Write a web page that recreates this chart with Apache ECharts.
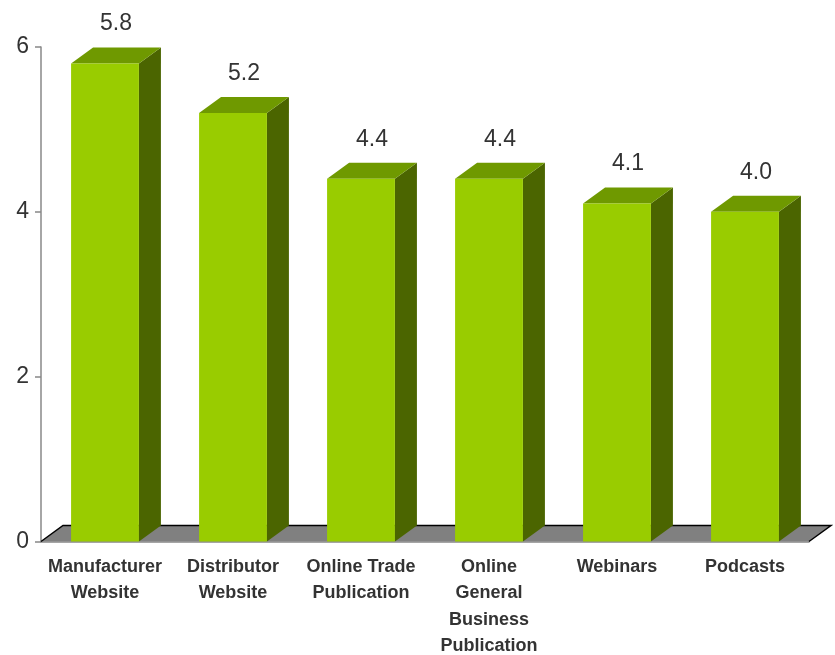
<!DOCTYPE html>
<html>
<head>
<meta charset="utf-8">
<script src="https://cdn.jsdelivr.net/npm/echarts@6/dist/echarts.min.js"></script>
<style>
  html, body { margin: 0; padding: 0; background: #fff; }
  #chart { width: 835px; height: 655px; }
</style>
</head>
<body>
<div id="chart"></div>
<script>
// data
const categories = ['Manufacturer\nWebsite', 'Distributor\nWebsite', 'Online Trade\nPublication', 'Online\nGeneral\nBusiness\nPublication', 'Webinars', 'Podcasts'];
const values = [5.8, 5.2, 4.4, 4.4, 4.1, 4.0];
const yTicks = [0, 2, 4, 6];

const DX = 22, DY = 16;
const FONT = 'Arial, "Liberation Sans", sans-serif';

const chart = echarts.init(document.getElementById('chart'));

// gray floor under the bars
function renderFloor(params, api) {
    const cs = params.coordSys;
    const x0 = cs.x, x1 = cs.x + cs.width, y0 = cs.y + cs.height;
    const pts = [[x0, y0], [x0 + DX, y0 - DY], [x1 + DX, y0 - DY], [x1, y0]];
    return {
        type: 'group',
        children: [
            { type: 'polygon', shape: { points: pts }, style: { fill: '#808080' } },
            { type: 'polyline', shape: { points: pts }, style: { stroke: '#000', lineWidth: 1.5, fill: null } }
        ]
    };
}

// 3d box per bar
function renderBar(params, api) {
    const top = api.coord([api.value(0), api.value(1)]);
    const base = api.coord([api.value(0), 0]);
    const w = api.size([1, 0])[0] * 0.53;
    const l = top[0] - w / 2, r = top[0] + w / 2;
    const t = top[1], b = base[1];
    return {
        type: 'group',
        children: [
            { type: 'polygon', shape: { points: [[r, t], [r + DX, t - DY], [r + DX, b - DY], [r, b]] },
              style: { fill: '#4b6500' } },
            { type: 'polygon', shape: { points: [[l, t], [l + DX, t - DY], [r + DX, t - DY], [r, t]] },
              style: { fill: '#6f9900' } },
            { type: 'rect', shape: { x: l, y: t, width: w, height: b - t },
              style: { fill: '#99cc00' } },
            { type: 'text', x: top[0] + DX / 2, y: t - DY - 12,
              style: { text: api.value(1).toFixed(1), fill: '#333', font: '23px ' + FONT,
                       align: 'center', verticalAlign: 'bottom' } }
        ]
    };
}

chart.setOption({
    animation: false,
    grid: { left: 41, right: 26, top: 47, bottom: 113.5, outerBoundsMode: 'none', containLabel: false },
    xAxis: {
        type: 'category',
        data: categories,
        axisLine: { lineStyle: { color: '#888', width: 1.5 } },
        axisTick: { length: 7, lineStyle: { color: '#888', width: 1.5 } },
        axisLabel: { color: '#333', fontWeight: 'bold', fontSize: 18, fontFamily: FONT,
                     lineHeight: 26.5, margin: 12, interval: 0, verticalAlign: 'top' }
    },
    yAxis: {
        type: 'value',
        min: yTicks[0], max: yTicks[yTicks.length - 1], interval: 2,
        splitLine: { show: false },
        axisLine: { show: true, lineStyle: { color: '#888', width: 1.5 } },
        axisTick: { show: true, length: 6, lineStyle: { color: '#888', width: 1.5 } },
        axisLabel: { color: '#333', fontSize: 23, fontFamily: FONT, margin: 12 }
    },
    series: [
        { type: 'custom', renderItem: renderFloor, data: [[0, 0]], z: 1, silent: true },
        { type: 'custom', renderItem: renderBar, data: values.map((v, i) => [i, v]), z: 2,
          encode: { x: 0, y: 1 } }
    ]
});
</script>
</body>
</html>
